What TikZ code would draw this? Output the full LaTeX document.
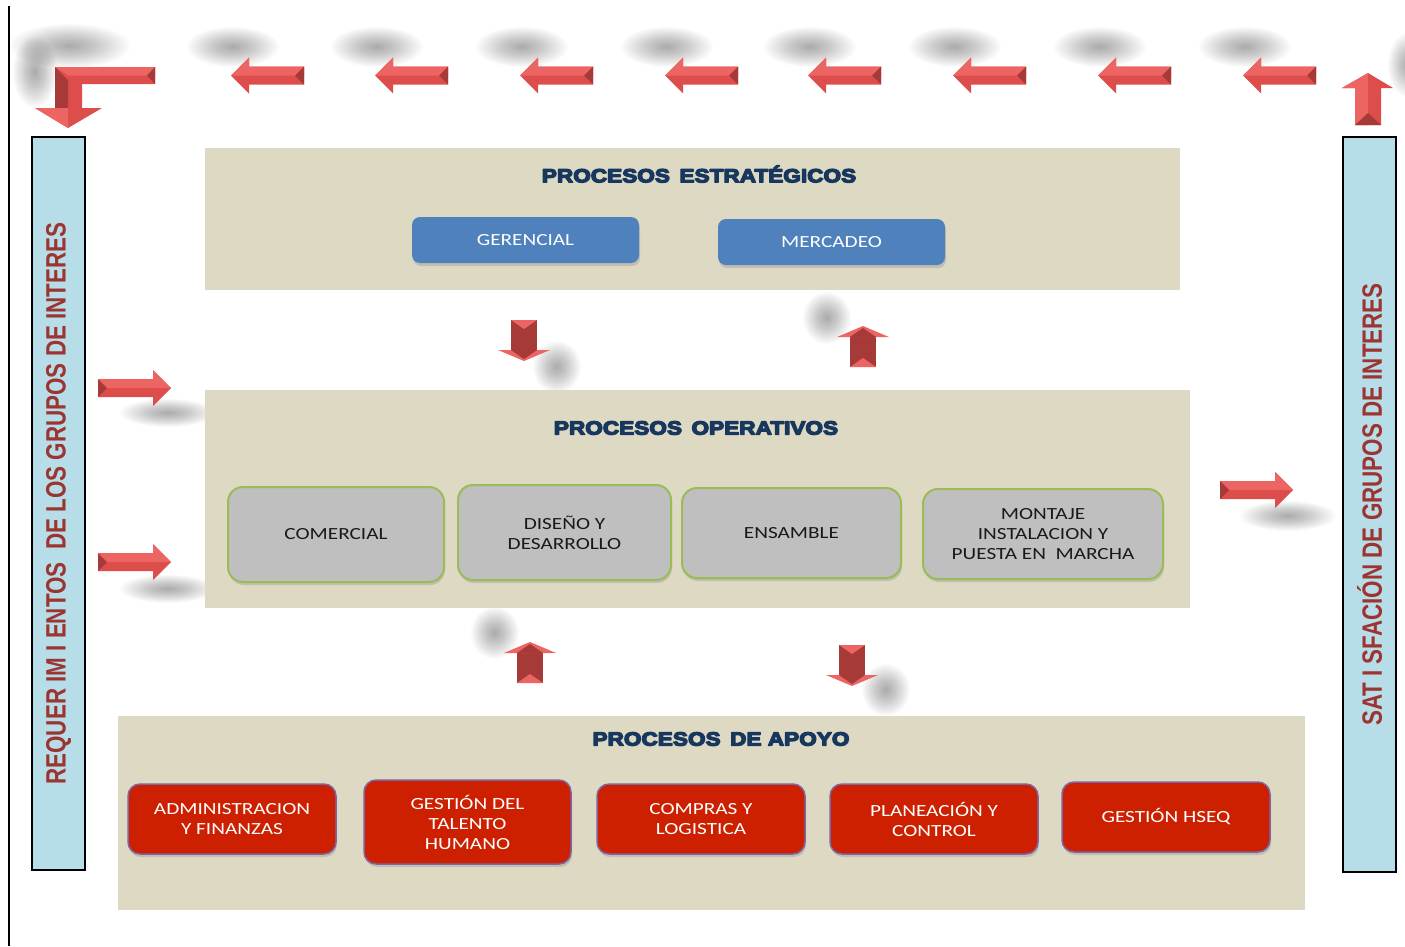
\documentclass[tikz,border=0pt]{standalone}
\usepackage{fontspec}
\usetikzlibrary{shadows}
\newfontfamily\bodyfont[FakeStretch=1.25]{Carlito}
\newfontfamily\titlefont[FakeStretch=1.19]{Liberation Sans Bold}
\newfontfamily\sidefont[FakeStretch=0.8]{Liberation Sans}
\newcommand\heavy[1]{\special{pdf:literal 2 Tr 1.3 w 1 j}#1\special{pdf:literal 0 Tr}}
\definecolor{beige}{HTML}{DDD9C3}
\definecolor{sideblue}{HTML}{B7DEE8}
\definecolor{sidered}{HTML}{9C3431}
\definecolor{boxblue}{HTML}{4F81BD}
\definecolor{boxgray}{HTML}{BFBFBF}
\definecolor{boxgreen}{HTML}{9BBB59}
\definecolor{boxred}{HTML}{CD2000}
\definecolor{boxpurple}{HTML}{8064A2}
\definecolor{navy}{HTML}{17375E}
\definecolor{arrowred}{HTML}{DC4D4B}
\definecolor{arrowlight}{HTML}{EC6563}
\definecolor{arrowdark}{HTML}{A53A38}
\newcommand\softblob[3]{%
  \foreach \k in {1,...,18}{\fill[black, opacity=0.018] (#1) ellipse [x radius={#2*\k/18}, y radius={#3*\k/18}];}}
\tikzset{
  panel/.style={fill=beige, draw=none, inner sep=0pt},
  sidebar/.style={fill=sideblue, draw=black, line width=2pt, inner sep=0pt},
  sidetext/.style={text=sidered, font=\sidefont\bfseries\fontsize{28}{30}\selectfont, rotate=90},
  ttl/.style={text=navy, font=\titlefont\fontsize{19}{21}\selectfont},
  basebox/.style={align=center, inner sep=0pt, font=\bodyfont\fontsize{17}{20}\selectfont,
    drop shadow={shadow xshift=1pt, shadow yshift=-3pt, opacity=0.3}},
  bluebox/.style={basebox, fill=boxblue, text=white, rounded corners=8pt},
  graybox/.style={basebox, fill=boxgray, draw=boxgreen, line width=2pt, text=black!90, rounded corners=15pt},
  redbox/.style={basebox, fill=boxred, draw=boxpurple, line width=1.5pt, text=white, rounded corners=12pt},
  hArrow/.pic={
    \fill[arrowred] (0,-9) -- (55,-9) -- (55,-18) -- (73,0) -- (55,18) -- (55,9) -- (0,9) -- cycle;
    \fill[arrowlight] (0,-9) -- (55,-9) -- (55,-18) -- (73,0) -- (0,0) -- cycle;
    \fill[arrowdark] (0,-9) -- (9,0) -- (0,9) -- cycle;
  },
  vArrow/.pic={
    \fill[arrowdark] (0,-13) -- (30,-13) -- (30,13) -- (0,13) -- cycle;
    \fill[arrowlight] (30,-26) -- (41,0) -- (30,26) -- cycle;
    \fill[arrowdark] (30,-13) -- (39,0) -- (30,13) -- cycle;
    \fill[arrowlight] (0,-13) -- (9,0) -- (0,13) -- cycle;
  }
}
\begin{document}
\begin{tikzpicture}[x=1pt,y=-1pt]
\useasboundingbox (0,0) rectangle (1405,946);
\fill[white] (0,0) rectangle (1405,946);
% left frame line
\draw[line width=2pt] (9,6) -- (9,946);

% soft shadows
\foreach \t in {231,375,520,665,808,953,1098,1243}
  {\softblob{\t+2,47}{46}{20}}
\softblob{70,46}{60}{22}
\softblob{35,72}{22}{36}
\softblob{1408,65}{20}{32}
\softblob{557,367}{24}{26}
\softblob{827,318}{24}{26}
\softblob{168,413}{48}{14}
\softblob{168,589}{48}{14}
\softblob{1288,516}{48}{15}
\softblob{495,633}{24}{26}
\softblob{886,690}{24}{26}

% panels
\node[panel, minimum width=975pt, minimum height=142pt] (pest) at (692.5,219) {};
\node[panel, minimum width=985pt, minimum height=218pt] (pop) at (697.5,499) {};
\node[panel, minimum width=1187pt, minimum height=194pt] (pap) at (711.5,813) {};

% side bars
\node[sidebar, minimum width=53pt, minimum height=733pt] (lbar) at (58.5,503.5) {};
\node[sidetext] (ltext) at (lbar.center) {REQUER IM I ENTOS\ \ DE LOS GRUPOS DE INTERES};
\node[sidebar, minimum width=53pt, minimum height=735pt] (rbar) at (1369.5,504.5) {};
\node[sidetext] (rtext) at (rbar.center) {SAT I SFACIÓN DE GRUPOS DE INTERES};

% titles
\node[ttl] (t1) at (699,174) {\heavy{PROCESOS\hspace{0.5em}ESTRATÉGICOS}};
\node[ttl] (t2) at (696,428) {\heavy{PROCESOS\hspace{0.5em}OPERATIVOS}};
\node[ttl] (t3) at (721,739) {\heavy{PROCESOS\hspace{0.5em}DE APOYO}};

% strategic boxes
\node[bluebox, minimum width=227pt, minimum height=46pt] (ger) at (525.5,240) {GERENCIAL};
\node[bluebox, minimum width=227pt, minimum height=46pt] (mer) at (831.5,242) {MERCADEO};

% operative boxes
\node[graybox, minimum width=216pt, minimum height=95pt] (com) at (336,534.5) {COMERCIAL};
\node[graybox, minimum width=213pt, minimum height=95pt] (dis) at (564.5,532.5) {DISEÑO Y\\DESARROLLO};
\node[graybox, minimum width=219pt, minimum height=90pt] (ens) at (791.5,533) {ENSAMBLE};
\node[graybox, minimum width=240pt, minimum height=90pt] (mon) at (1043,534) {MONTAJE\\INSTALACION Y\\PUESTA EN\ \ MARCHA};

% support boxes
\node[redbox, minimum width=208pt, minimum height=70pt] (adm) at (232,819) {ADMINISTRACION\\Y FINANZAS};
\node[redbox, minimum width=207pt, minimum height=84pt] (tal) at (467.5,822) {GESTIÓN DEL\\TALENTO\\HUMANO};
\node[redbox, minimum width=208pt, minimum height=70pt] (cmp) at (701,819) {COMPRAS Y\\LOGISTICA};
\node[redbox, minimum width=208pt, minimum height=70pt] (pla) at (934,819) {PLANEACIÓN Y\\CONTROL};
\node[redbox, minimum width=208pt, minimum height=70pt] (hse) at (1166,817) {GESTIÓN HSEQ};

% top row of left arrows
\foreach \t in {231,375,520,665,808,953,1098,1243}
  \pic[xscale=-1] at (\t+73,75.5) {hArrow};

% bent arrow top-left
\fill[arrowred] (155,67) -- (55,67) -- (55,108) -- (35,108) -- (68,128) -- (102,108) -- (82,108) -- (82,84) -- (155,84) -- cycle;
\fill[arrowlight] (155,67) -- (55,67) -- (68,75.5) -- (155,75.5) -- cycle;
\fill[arrowdark] (55,67) -- (68,80) -- (68,108) -- (55,108) -- cycle;
\fill[arrowdark] (155,67) -- (147,75.5) -- (155,84) -- cycle;
\fill[arrowlight] (35,108) -- (68,128) -- (68,108) -- cycle;

% top-right up arrow
\fill[arrowred] (1355,125) -- (1355,88) -- (1342,88) -- (1368,73) -- (1393,88) -- (1381,88) -- (1381,125) -- cycle;
\fill[arrowlight] (1355,125) -- (1355,88) -- (1342,88) -- (1368,73) -- (1368,125) -- cycle;
\fill[arrowdark] (1355,125) -- (1368,113) -- (1381,125) -- cycle;

% side arrows
\pic at (98,388) {hArrow};
\pic at (98,562) {hArrow};
\pic at (1220,490) {hArrow};

% vertical arrows between panels
\pic[rotate=-90] at (524,320) {vArrow};
\pic[rotate=90] at (863,367) {vArrow};
\pic[rotate=90] at (530,683) {vArrow};
\pic[rotate=-90] at (852,645) {vArrow};
\end{tikzpicture}
\end{document}
